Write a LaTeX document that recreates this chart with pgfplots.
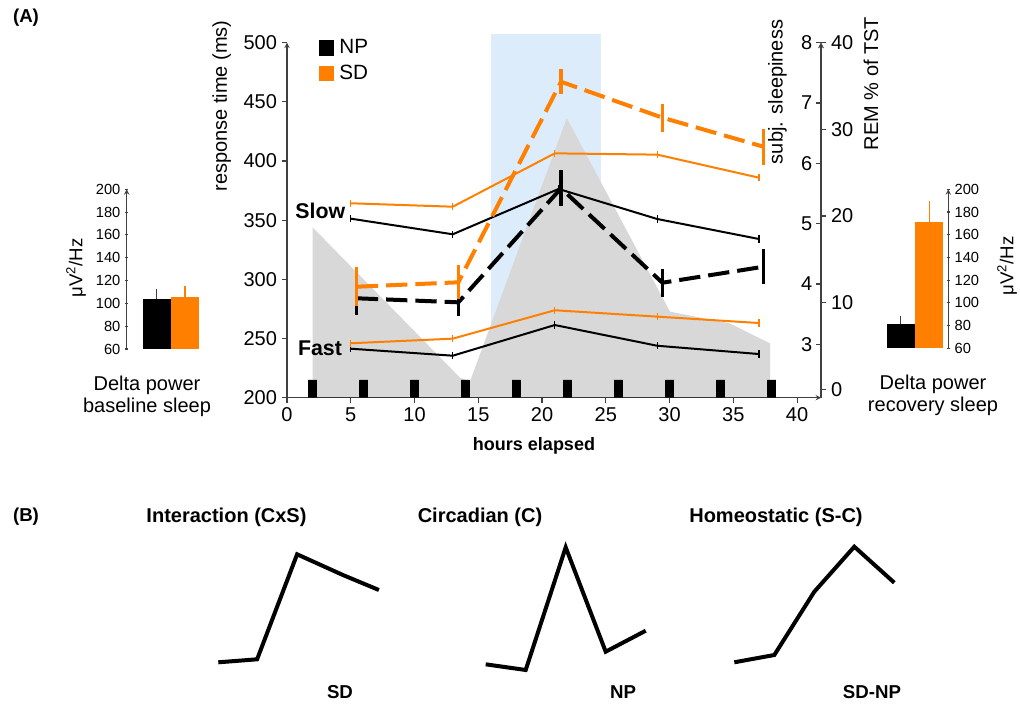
\documentclass[border=0pt]{standalone}
\usepackage{fontspec}
\setmainfont{Liberation Sans}
\usepackage{graphicx}
\usepackage{pgfplots}
\pgfplotsset{compat=1.18}
\definecolor{myorange}{RGB}{255,128,0}
\definecolor{remgray}{RGB}{216,216,216}
\definecolor{nightblue}{RGB}{221,236,250}
\definecolor{axgray}{RGB}{64,64,64}
\newcommand{\fs}[1]{\fontsize{#1}{#1}\selectfont}
\pgfplotsset{
  noarrows/.style={
    every outer x axis line/.append style={-},
    every outer y axis line/.append style={-},
    every inner x axis line/.append style={-},
    every inner y axis line/.append style={-}},
  mainbox/.style={scale only axis, width=400.5pt, height=266.25pt,
    at={(215.25pt,229.725pt)}, anchor=south west, xmin=0, xmax=41.88,
    axis line style={-, draw=axgray, line width=0.8pt}, noarrows,
    tick style={axgray, line width=0.8pt}, major tick length=4pt,
    ticklabel style={font=\fs{15}},
    /pgf/number format/assume math mode=true},
  barbox/.style={scale only axis, width=54.225pt,
    xmin=0, xmax=72.3, ymin=60, ymax=200,
    axis x line=none,
    axis line style={-, draw=axgray, line width=0.8pt}, noarrows,
    tick style={axgray, line width=0.8pt}, major tick length=2.5pt,
    tick align=outside, ytick={60,80,...,200},
    ticklabel style={font=\fs{11}},
    /pgf/number format/assume math mode=true},
  minibox/.style={scale only axis, width=120pt, height=120pt,
    xmin=5, xmax=37, ymin=0, ymax=160, axis lines=none, clip=false},
}
\pgfplotstableread{
t ms
5.0 351.3
13.0 338.1
21.3 376.4
29.04 351.0
37.02 334.1
}\slowNP
\pgfplotstableread{
t ms
5.0 364.3
13.0 361.4
21.0 406.5
29.04 405.4
37.02 385.9
}\slowSD
\pgfplotstableread{
t ms
5.0 241.4
13.0 235.5
21.0 261.4
29.04 243.9
37.02 236.9
}\fastNP
\pgfplotstableread{
t ms
5.0 246.0
13.0 249.9
21.0 273.9
29.04 268.5
37.02 263.1
}\fastSD
\pgfplotstableread{
t s e
5.47 3.763 0.28
13.44 3.696 0.22
21.49 5.586 0.30
29.44 4.021 0.23
37.36 4.286 0.29
}\sleepNP
\pgfplotstableread{
t s e
5.47 3.955 0.32
13.44 4.028 0.28
21.49 7.353 0.21
29.44 6.757 0.23
37.36 6.276 0.30
}\sleepSD
\begin{document}
\begin{tikzpicture}
\path[use as bounding box] (0,0) rectangle (765pt,528pt);

% REM axis with night shading and REM area
\begin{axis}[mainbox, ymin=-0.97, ymax=40, axis x line=none, axis y line=right,
  ytick={0,10,...,40}, tick align=outside, clip=false]
\addplot[fill=nightblue, draw=none] coordinates {(16.0,-0.97) (16.0,41.0) (24.6,41.0) (24.6,-0.97)} -- cycle;
\addplot[fill=remgray, draw=none] coordinates {(2.0,-0.97) (2.0,18.7) (13.6,1.3) (14.35,0.9) (21.94,31.3) (30.04,8.96) (34.75,7.6) (37.88,5.3) (37.88,-0.97)} -- cycle;
\end{axis}

% response time axis
\begin{axis}[mainbox, ymin=200, ymax=500, axis x line=bottom, axis y line=left,
  xtick={0,5,...,40}, ytick={200,250,...,500}, tick align=outside, clip=false,
  legend style={at={(0.0586,1.017)}, anchor=north west, draw=none, fill=none,
    inner sep=0pt, row sep=3pt, font=\fs{15.5}, cells={anchor=west}},
  legend image code/.code={\fill[#1] (0pt,-5.35pt) rectangle (10.7pt,5.35pt);},
  legend cell align=left,
  legend style={nodes={inner xsep=4.5pt}}]
\addlegendimage{black}
\addlegendentry{NP}
\addlegendimage{myorange}
\addlegendentry{SD}
\addplot[fill=black, draw=none] coordinates {
(1.66,200) (1.66,215) (2.34,215) (2.34,200)
(5.66,200) (5.66,215) (6.34,215) (6.34,200)
(9.66,200) (9.66,215) (10.34,215) (10.34,200)
(13.66,200) (13.66,215) (14.34,215) (14.34,200)
(17.66,200) (17.66,215) (18.34,215) (18.34,200)
(21.66,200) (21.66,215) (22.34,215) (22.34,200)
(25.66,200) (25.66,215) (26.34,215) (26.34,200)
(29.66,200) (29.66,215) (30.34,215) (30.34,200)
(33.66,200) (33.66,215) (34.34,215) (34.34,200)
(37.66,200) (37.66,215) (38.34,215) (38.34,200)} -- cycle;
\addplot[black, line width=1.5pt, error bars/.cd, y dir=both, y fixed=3, error mark=none, error bar style={line width=1pt}] table[x=t, y=ms] {\slowNP};
\addplot[myorange, line width=1.5pt, error bars/.cd, y dir=both, y fixed=3, error mark=none, error bar style={line width=1pt}] table[x=t, y=ms] {\slowSD};
\addplot[black, line width=1.5pt, error bars/.cd, y dir=both, y fixed=3, error mark=none, error bar style={line width=1pt}] table[x=t, y=ms] {\fastNP};
\addplot[myorange, line width=1.5pt, error bars/.cd, y dir=both, y fixed=3, error mark=none, error bar style={line width=1pt}] table[x=t, y=ms] {\fastSD};
\end{axis}

% subjective sleepiness axis
\begin{axis}[mainbox, ymin=2.115, ymax=8, axis x line=none, axis y line=right,
  ytick={3,...,8}, tick align=inside, clip=false,
  yticklabel style={anchor=east, xshift=-3pt}]
\addplot[black, line width=3pt, dash pattern=on 16pt off 6pt,
  error bars/.cd, y dir=both, y explicit, error mark=none,
  error bar style={solid, line width=2.5pt}] table[x=t, y=s, y error=e] {\sleepNP};
\addplot[myorange, line width=3pt, dash pattern=on 16pt off 6pt,
  error bars/.cd, y dir=both, y explicit, error mark=none,
  error bar style={solid, line width=2.5pt}] table[x=t, y=s, y error=e] {\sleepSD};
\end{axis}

% baseline delta power
\begin{axis}[barbox, height=119.775pt, at={(95.025pt,266.25pt)}, anchor=south west, axis y line=left]
\addplot[ybar, bar width=28.3, bar shift=0pt, fill=black, draw=none,
  error bars/.cd, y dir=plus, y explicit, error mark=none,
  error bar style={draw=axgray, line width=0.8pt}] coordinates {(30.15,104.1) +- (0,8.3)};
\addplot[ybar, bar width=28.3, bar shift=0pt, fill=myorange, draw=none,
  error bars/.cd, y dir=plus, y explicit, error mark=none,
  error bar style={draw=myorange, line width=0.8pt}] coordinates {(58.3,105.3) +- (0,10.0)};
\end{axis}

% recovery delta power
\begin{axis}[barbox, height=119.25pt, at={(657pt,266.775pt)}, anchor=south west, axis y line=right]
\addplot[ybar, bar width=28.3, bar shift=0pt, fill=black, draw=none,
  error bars/.cd, y dir=plus, y explicit, error mark=none,
  error bar style={draw=axgray, line width=0.8pt}] coordinates {(24.85,81.1) +- (0,7.6)};
\addplot[ybar, bar width=28.3, bar shift=0pt, fill=myorange, draw=none,
  error bars/.cd, y dir=plus, y explicit, error mark=none,
  error bar style={draw=myorange, line width=0.8pt}] coordinates {(53.15,170.9) +- (0,19.1)};
\end{axis}

% panel B schematics
\begin{axis}[minibox, at={(163.5pt,3pt)}, anchor=south west]
\addplot[black, line width=3pt] coordinates {(5.06,37.7) (12.82,40.7) (20.82,145.7) (29.98,125) (37.18,110)};
\end{axis}
\begin{axis}[minibox, at={(364.275pt,3pt)}, anchor=south west]
\addplot[black, line width=3pt] coordinates {(5,35.7) (13,30) (21,152.7) (29,48.3) (37,69.3)};
\end{axis}
\begin{axis}[minibox, at={(550.725pt,3pt)}, anchor=south west]
\addplot[black, line width=3pt] coordinates {(5,37.7) (13,45) (21,108.3) (29,153.3) (37,117.3)};
\end{axis}

% text
\node[font=\bfseries\fs{14}] at (19.5pt,514.5pt) {(A)};
\node[font=\bfseries\fs{14}] at (19.5pt,140.25pt) {(B)};
\node[rotate=90, font=\fs{15}] at (166.275pt,448.5pt) {response time (ms)};
\node[rotate=90, font=\fs{15}] at (583.125pt,459pt) {subj. sleepiness};
\node[rotate=90, font=\fs{15}] at (653.25pt,465.375pt) {REM \% of TST};
\node[font=\bfseries\fs{13.5}] at (400.5pt,193.5pt) {hours elapsed};
\node[font=\bfseries\fs{16}] at (240.225pt,370.125pt) {Slow};
\node[font=\bfseries\fs{16}] at (240pt,267pt) {Fast};
\node[rotate=90, font=\fs{14}] at (57pt,327pt) {μV\textsuperscript{2}/Hz};
\node[rotate=90, font=\fs{14}] at (755.25pt,328.5pt) {μV\textsuperscript{2}/Hz};
\node[align=center, font=\fontsize{15}{16.5}\selectfont] at (110.25pt,231pt) {Delta power\\baseline sleep};
\node[align=center, font=\fontsize{15}{16.5}\selectfont] at (699.75pt,231.75pt) {Delta power\\recovery sleep};
\node[font=\bfseries\fs{15}] at (169.875pt,140.25pt) {Interaction (CxS)};
\node[font=\bfseries\fs{15}] at (360pt,140.25pt) {Circadian (C)};
\node[font=\bfseries\fs{15}] at (582pt,140.25pt) {Homeostatic (S-C)};
\node[font=\bfseries\fs{14}] at (255pt,9pt) {SD};
\node[font=\bfseries\fs{14}] at (467.25pt,9pt) {NP};
\node[font=\bfseries\fs{14}] at (654pt,9pt) {SD-NP};
\end{tikzpicture}
\end{document}
